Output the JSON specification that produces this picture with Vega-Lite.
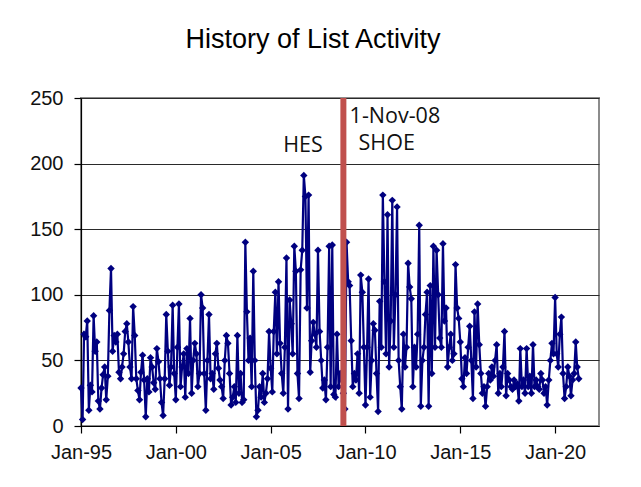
{
  "$schema": "https://vega.github.io/schema/vega-lite/v6.json",
  "width": 518,
  "height": 328,
  "autosize": "none",
  "padding": {"left": 81, "top": 98, "right": 42, "bottom": 61},
  "background": "white",
  "title": {"text": "History of List Activity", "font": "Liberation Sans", "fontSize": 27, "fontWeight": "normal", "color": "#000000", "anchor": "middle", "frame": "group", "dx": -27, "offset": 34},
  "config": {
    "view": {"stroke": "#8c8c8c", "strokeWidth": 2},
    "axis": {"labelFont": "Liberation Sans", "labelFontSize": 20, "labelColor": "#111111", "domainColor": "#000000", "domainWidth": 1.2, "tickColor": "#000000", "tickWidth": 1.2, "tickSize": 7, "title": null}
  },
  "datasets": {
    "activity": [
      {"month": "1995-01-01", "messages": 29}, {"month": "1995-02-01", "messages": 5}, {"month": "1995-03-01", "messages": 70}, {"month": "1995-04-01", "messages": 68}, {"month": "1995-05-01", "messages": 80}, {"month": "1995-06-01", "messages": 12}, {"month": "1995-07-01", "messages": 31}, {"month": "1995-08-01", "messages": 26}, {"month": "1995-09-01", "messages": 84}, {"month": "1995-10-01", "messages": 57}, {"month": "1995-11-01", "messages": 64}, {"month": "1995-12-01", "messages": 19},
      {"month": "1996-01-01", "messages": 13}, {"month": "1996-02-01", "messages": 29}, {"month": "1996-03-01", "messages": 39}, {"month": "1996-04-01", "messages": 45}, {"month": "1996-05-01", "messages": 20}, {"month": "1996-06-01", "messages": 38}, {"month": "1996-07-01", "messages": 88}, {"month": "1996-08-01", "messages": 120}, {"month": "1996-09-01", "messages": 57}, {"month": "1996-10-01", "messages": 69}, {"month": "1996-11-01", "messages": 64}, {"month": "1996-12-01", "messages": 70},
      {"month": "1997-01-01", "messages": 41}, {"month": "1997-02-01", "messages": 36}, {"month": "1997-03-01", "messages": 45}, {"month": "1997-04-01", "messages": 55}, {"month": "1997-05-01", "messages": 72}, {"month": "1997-06-01", "messages": 78}, {"month": "1997-07-01", "messages": 64}, {"month": "1997-08-01", "messages": 45}, {"month": "1997-09-01", "messages": 36}, {"month": "1997-10-01", "messages": 91}, {"month": "1997-11-01", "messages": 69}, {"month": "1997-12-01", "messages": 36},
      {"month": "1998-01-01", "messages": 27}, {"month": "1998-02-01", "messages": 20}, {"month": "1998-03-01", "messages": 41}, {"month": "1998-04-01", "messages": 54}, {"month": "1998-05-01", "messages": 35}, {"month": "1998-06-01", "messages": 7}, {"month": "1998-07-01", "messages": 36}, {"month": "1998-08-01", "messages": 26}, {"month": "1998-09-01", "messages": 52}, {"month": "1998-10-01", "messages": 45}, {"month": "1998-11-01", "messages": 33}, {"month": "1998-12-01", "messages": 28},
      {"month": "1999-01-01", "messages": 59}, {"month": "1999-02-01", "messages": 49}, {"month": "1999-03-01", "messages": 36}, {"month": "1999-04-01", "messages": 18}, {"month": "1999-05-01", "messages": 8}, {"month": "1999-06-01", "messages": 36}, {"month": "1999-07-01", "messages": 85}, {"month": "1999-08-01", "messages": 57}, {"month": "1999-09-01", "messages": 31}, {"month": "1999-10-01", "messages": 45}, {"month": "1999-11-01", "messages": 92}, {"month": "1999-12-01", "messages": 40},
      {"month": "2000-01-01", "messages": 20}, {"month": "2000-02-01", "messages": 60}, {"month": "2000-03-01", "messages": 93}, {"month": "2000-04-01", "messages": 30}, {"month": "2000-05-01", "messages": 45}, {"month": "2000-06-01", "messages": 55}, {"month": "2000-07-01", "messages": 22}, {"month": "2000-08-01", "messages": 59}, {"month": "2000-09-01", "messages": 40}, {"month": "2000-10-01", "messages": 82}, {"month": "2000-11-01", "messages": 25}, {"month": "2000-12-01", "messages": 50},
      {"month": "2001-01-01", "messages": 63}, {"month": "2001-02-01", "messages": 55}, {"month": "2001-03-01", "messages": 30}, {"month": "2001-04-01", "messages": 40}, {"month": "2001-05-01", "messages": 100}, {"month": "2001-06-01", "messages": 90}, {"month": "2001-07-01", "messages": 40}, {"month": "2001-08-01", "messages": 12}, {"month": "2001-09-01", "messages": 50}, {"month": "2001-10-01", "messages": 85}, {"month": "2001-11-01", "messages": 36}, {"month": "2001-12-01", "messages": 40},
      {"month": "2002-01-01", "messages": 28}, {"month": "2002-02-01", "messages": 55}, {"month": "2002-03-01", "messages": 63}, {"month": "2002-04-01", "messages": 44}, {"month": "2002-05-01", "messages": 35}, {"month": "2002-06-01", "messages": 30}, {"month": "2002-07-01", "messages": 21}, {"month": "2002-08-01", "messages": 50}, {"month": "2002-09-01", "messages": 69}, {"month": "2002-10-01", "messages": 63}, {"month": "2002-11-01", "messages": 40}, {"month": "2002-12-01", "messages": 16},
      {"month": "2003-01-01", "messages": 22}, {"month": "2003-02-01", "messages": 30}, {"month": "2003-03-01", "messages": 18}, {"month": "2003-04-01", "messages": 69}, {"month": "2003-05-01", "messages": 25}, {"month": "2003-06-01", "messages": 40}, {"month": "2003-07-01", "messages": 18}, {"month": "2003-08-01", "messages": 20}, {"month": "2003-09-01", "messages": 140}, {"month": "2003-10-01", "messages": 87}, {"month": "2003-11-01", "messages": 50}, {"month": "2003-12-01", "messages": 67},
      {"month": "2004-01-01", "messages": 30}, {"month": "2004-02-01", "messages": 118}, {"month": "2004-03-01", "messages": 50}, {"month": "2004-04-01", "messages": 7}, {"month": "2004-05-01", "messages": 12}, {"month": "2004-06-01", "messages": 30}, {"month": "2004-07-01", "messages": 22}, {"month": "2004-08-01", "messages": 40}, {"month": "2004-09-01", "messages": 18}, {"month": "2004-10-01", "messages": 25}, {"month": "2004-11-01", "messages": 36}, {"month": "2004-12-01", "messages": 72},
      {"month": "2005-01-01", "messages": 44}, {"month": "2005-02-01", "messages": 26}, {"month": "2005-03-01", "messages": 72}, {"month": "2005-04-01", "messages": 102}, {"month": "2005-05-01", "messages": 55}, {"month": "2005-06-01", "messages": 110}, {"month": "2005-07-01", "messages": 63}, {"month": "2005-08-01", "messages": 40}, {"month": "2005-09-01", "messages": 25}, {"month": "2005-10-01", "messages": 60}, {"month": "2005-11-01", "messages": 128}, {"month": "2005-12-01", "messages": 13},
      {"month": "2006-01-01", "messages": 96}, {"month": "2006-02-01", "messages": 78}, {"month": "2006-03-01", "messages": 55}, {"month": "2006-04-01", "messages": 137}, {"month": "2006-05-01", "messages": 118}, {"month": "2006-06-01", "messages": 40}, {"month": "2006-07-01", "messages": 21}, {"month": "2006-08-01", "messages": 119}, {"month": "2006-09-01", "messages": 134}, {"month": "2006-10-01", "messages": 191}, {"month": "2006-11-01", "messages": 175}, {"month": "2006-12-01", "messages": 90},
      {"month": "2007-01-01", "messages": 176}, {"month": "2007-02-01", "messages": 41}, {"month": "2007-03-01", "messages": 65}, {"month": "2007-04-01", "messages": 79}, {"month": "2007-05-01", "messages": 70}, {"month": "2007-06-01", "messages": 60}, {"month": "2007-07-01", "messages": 134}, {"month": "2007-08-01", "messages": 72}, {"month": "2007-09-01", "messages": 50}, {"month": "2007-10-01", "messages": 29}, {"month": "2007-11-01", "messages": 35}, {"month": "2007-12-01", "messages": 20},
      {"month": "2008-01-01", "messages": 60}, {"month": "2008-02-01", "messages": 137}, {"month": "2008-03-01", "messages": 30}, {"month": "2008-04-01", "messages": 138}, {"month": "2008-05-01", "messages": 24}, {"month": "2008-06-01", "messages": 22}, {"month": "2008-07-01", "messages": 70}, {"month": "2008-08-01", "messages": 30}, {"month": "2008-09-01", "messages": 40}, {"month": "2008-10-01", "messages": 35}, {"month": "2008-11-01", "messages": 25}, {"month": "2008-12-01", "messages": 13},
      {"month": "2009-01-01", "messages": 140}, {"month": "2009-02-01", "messages": 110}, {"month": "2009-03-01", "messages": 107}, {"month": "2009-04-01", "messages": 65}, {"month": "2009-05-01", "messages": 30}, {"month": "2009-06-01", "messages": 40}, {"month": "2009-07-01", "messages": 35}, {"month": "2009-08-01", "messages": 55}, {"month": "2009-09-01", "messages": 25}, {"month": "2009-10-01", "messages": 115}, {"month": "2009-11-01", "messages": 102}, {"month": "2009-12-01", "messages": 60},
      {"month": "2010-01-01", "messages": 16}, {"month": "2010-02-01", "messages": 60}, {"month": "2010-03-01", "messages": 112}, {"month": "2010-04-01", "messages": 22}, {"month": "2010-05-01", "messages": 50}, {"month": "2010-06-01", "messages": 78}, {"month": "2010-07-01", "messages": 73}, {"month": "2010-08-01", "messages": 40}, {"month": "2010-09-01", "messages": 11}, {"month": "2010-10-01", "messages": 95}, {"month": "2010-11-01", "messages": 60}, {"month": "2010-12-01", "messages": 176},
      {"month": "2011-01-01", "messages": 110}, {"month": "2011-02-01", "messages": 55}, {"month": "2011-03-01", "messages": 161}, {"month": "2011-04-01", "messages": 45}, {"month": "2011-05-01", "messages": 80}, {"month": "2011-06-01", "messages": 172}, {"month": "2011-07-01", "messages": 60}, {"month": "2011-08-01", "messages": 100}, {"month": "2011-09-01", "messages": 167}, {"month": "2011-10-01", "messages": 50}, {"month": "2011-11-01", "messages": 30}, {"month": "2011-12-01", "messages": 13},
      {"month": "2012-01-01", "messages": 70}, {"month": "2012-02-01", "messages": 45}, {"month": "2012-03-01", "messages": 60}, {"month": "2012-04-01", "messages": 124}, {"month": "2012-05-01", "messages": 106}, {"month": "2012-06-01", "messages": 97}, {"month": "2012-07-01", "messages": 30}, {"month": "2012-08-01", "messages": 60}, {"month": "2012-09-01", "messages": 45}, {"month": "2012-10-01", "messages": 70}, {"month": "2012-11-01", "messages": 153}, {"month": "2012-12-01", "messages": 15},
      {"month": "2013-01-01", "messages": 50}, {"month": "2013-02-01", "messages": 60}, {"month": "2013-03-01", "messages": 85}, {"month": "2013-04-01", "messages": 102}, {"month": "2013-05-01", "messages": 15}, {"month": "2013-06-01", "messages": 107}, {"month": "2013-07-01", "messages": 40}, {"month": "2013-08-01", "messages": 137}, {"month": "2013-09-01", "messages": 60}, {"month": "2013-10-01", "messages": 134}, {"month": "2013-11-01", "messages": 100}, {"month": "2013-12-01", "messages": 67},
      {"month": "2014-01-01", "messages": 60}, {"month": "2014-02-01", "messages": 139}, {"month": "2014-03-01", "messages": 80}, {"month": "2014-04-01", "messages": 90}, {"month": "2014-05-01", "messages": 45}, {"month": "2014-06-01", "messages": 60}, {"month": "2014-07-01", "messages": 70}, {"month": "2014-08-01", "messages": 50}, {"month": "2014-09-01", "messages": 55}, {"month": "2014-10-01", "messages": 123}, {"month": "2014-11-01", "messages": 90}, {"month": "2014-12-01", "messages": 82},
      {"month": "2015-01-01", "messages": 64}, {"month": "2015-02-01", "messages": 36}, {"month": "2015-03-01", "messages": 30}, {"month": "2015-04-01", "messages": 52}, {"month": "2015-05-01", "messages": 40}, {"month": "2015-06-01", "messages": 60}, {"month": "2015-07-01", "messages": 76}, {"month": "2015-08-01", "messages": 50}, {"month": "2015-09-01", "messages": 21}, {"month": "2015-10-01", "messages": 87}, {"month": "2015-11-01", "messages": 45}, {"month": "2015-12-01", "messages": 93},
      {"month": "2016-01-01", "messages": 62}, {"month": "2016-02-01", "messages": 40}, {"month": "2016-03-01", "messages": 25}, {"month": "2016-04-01", "messages": 30}, {"month": "2016-05-01", "messages": 15}, {"month": "2016-06-01", "messages": 30}, {"month": "2016-07-01", "messages": 40}, {"month": "2016-08-01", "messages": 35}, {"month": "2016-09-01", "messages": 45}, {"month": "2016-10-01", "messages": 38}, {"month": "2016-11-01", "messages": 50}, {"month": "2016-12-01", "messages": 62},
      {"month": "2017-01-01", "messages": 25}, {"month": "2017-02-01", "messages": 40}, {"month": "2017-03-01", "messages": 30}, {"month": "2017-04-01", "messages": 45}, {"month": "2017-05-01", "messages": 72}, {"month": "2017-06-01", "messages": 23}, {"month": "2017-07-01", "messages": 40}, {"month": "2017-08-01", "messages": 35}, {"month": "2017-09-01", "messages": 30}, {"month": "2017-10-01", "messages": 28}, {"month": "2017-11-01", "messages": 35}, {"month": "2017-12-01", "messages": 30},
      {"month": "2018-01-01", "messages": 32}, {"month": "2018-02-01", "messages": 19}, {"month": "2018-03-01", "messages": 59}, {"month": "2018-04-01", "messages": 30}, {"month": "2018-05-01", "messages": 35}, {"month": "2018-06-01", "messages": 25}, {"month": "2018-07-01", "messages": 59}, {"month": "2018-08-01", "messages": 30}, {"month": "2018-09-01", "messages": 38}, {"month": "2018-10-01", "messages": 25}, {"month": "2018-11-01", "messages": 62}, {"month": "2018-12-01", "messages": 30},
      {"month": "2019-01-01", "messages": 35}, {"month": "2019-02-01", "messages": 30}, {"month": "2019-03-01", "messages": 28}, {"month": "2019-04-01", "messages": 40}, {"month": "2019-05-01", "messages": 35}, {"month": "2019-06-01", "messages": 25}, {"month": "2019-07-01", "messages": 30}, {"month": "2019-08-01", "messages": 16}, {"month": "2019-09-01", "messages": 35}, {"month": "2019-10-01", "messages": 50}, {"month": "2019-11-01", "messages": 63}, {"month": "2019-12-01", "messages": 55},
      {"month": "2020-01-01", "messages": 98}, {"month": "2020-02-01", "messages": 55}, {"month": "2020-03-01", "messages": 45}, {"month": "2020-04-01", "messages": 70}, {"month": "2020-05-01", "messages": 83}, {"month": "2020-06-01", "messages": 40}, {"month": "2020-07-01", "messages": 21}, {"month": "2020-08-01", "messages": 30}, {"month": "2020-09-01", "messages": 45}, {"month": "2020-10-01", "messages": 38}, {"month": "2020-11-01", "messages": 23}, {"month": "2020-12-01", "messages": 35},
      {"month": "2021-01-01", "messages": 40}, {"month": "2021-02-01", "messages": 64}, {"month": "2021-03-01", "messages": 45}, {"month": "2021-04-01", "messages": 36}
    ],
    "events": [{"date": "2008-11-01", "label": "1-Nov-08"}]
  },
  "layer": [
    {
      "data": {"name": "activity"},
      "mark": {"type": "line", "color": "#000080", "strokeWidth": 2.2, "point": {"shape": "diamond", "size": 55, "filled": true, "color": "#000080", "opacity": 1}},
      "encoding": {
        "x": {"field": "month", "type": "temporal",
          "scale": {"type": "utc", "domain": [{"year": 1995, "month": 1, "date": 1, "utc": true}, {"year": 2022, "month": 4, "date": 25, "utc": true}]},
          "axis": {"grid": false, "format": "%b-%y", "labelPadding": 9, "labelFlush": false, "labelOverlap": false,
            "values": [{"year": 1995, "month": 1, "date": 1, "utc": true}, {"year": 2000, "month": 1, "date": 1, "utc": true}, {"year": 2005, "month": 1, "date": 1, "utc": true}, {"year": 2010, "month": 1, "date": 1, "utc": true}, {"year": 2015, "month": 1, "date": 1, "utc": true}, {"year": 2020, "month": 1, "date": 1, "utc": true}]}},
        "y": {"field": "messages", "type": "quantitative",
          "scale": {"domain": [0, 250], "nice": false},
          "axis": {"values": [0, 50, 100, 150, 200, 250], "grid": true, "gridColor": "#2a2a2a", "gridWidth": 1, "labelPadding": 11, "labelFlush": false}}
      }
    },
    {
      "data": {"name": "events"},
      "mark": {"type": "rule", "color": "#C0504D", "strokeWidth": 6},
      "encoding": {"x": {"field": "date", "type": "temporal"}}
    },
    {
      "data": {"values": [{}]},
      "mark": {"type": "text", "font": "Open Sans", "fontSize": 21.5, "color": "#111111", "align": "center", "baseline": "alphabetic"},
      "encoding": {
        "x": {"datum": {"year": 2006, "month": 9, "date": 15, "utc": true}, "type": "temporal"},
        "y": {"datum": 209, "type": "quantitative"},
        "text": {"value": "HES"}
      }
    },
    {
      "data": {"values": [{}]},
      "mark": {"type": "text", "font": "Open Sans", "fontSize": 21.5, "color": "#111111", "align": "left", "baseline": "alphabetic"},
      "encoding": {
        "x": {"datum": {"year": 2009, "month": 3, "date": 1, "utc": true}, "type": "temporal"},
        "y": {"datum": 231, "type": "quantitative"},
        "text": {"value": "1-Nov-08"}
      }
    },
    {
      "data": {"values": [{}]},
      "mark": {"type": "text", "font": "Open Sans", "fontSize": 21.5, "color": "#111111", "align": "left", "baseline": "alphabetic"},
      "encoding": {
        "x": {"datum": {"year": 2009, "month": 8, "date": 20, "utc": true}, "type": "temporal"},
        "y": {"datum": 210, "type": "quantitative"},
        "text": {"value": "SHOE"}
      }
    }
  ]
}
